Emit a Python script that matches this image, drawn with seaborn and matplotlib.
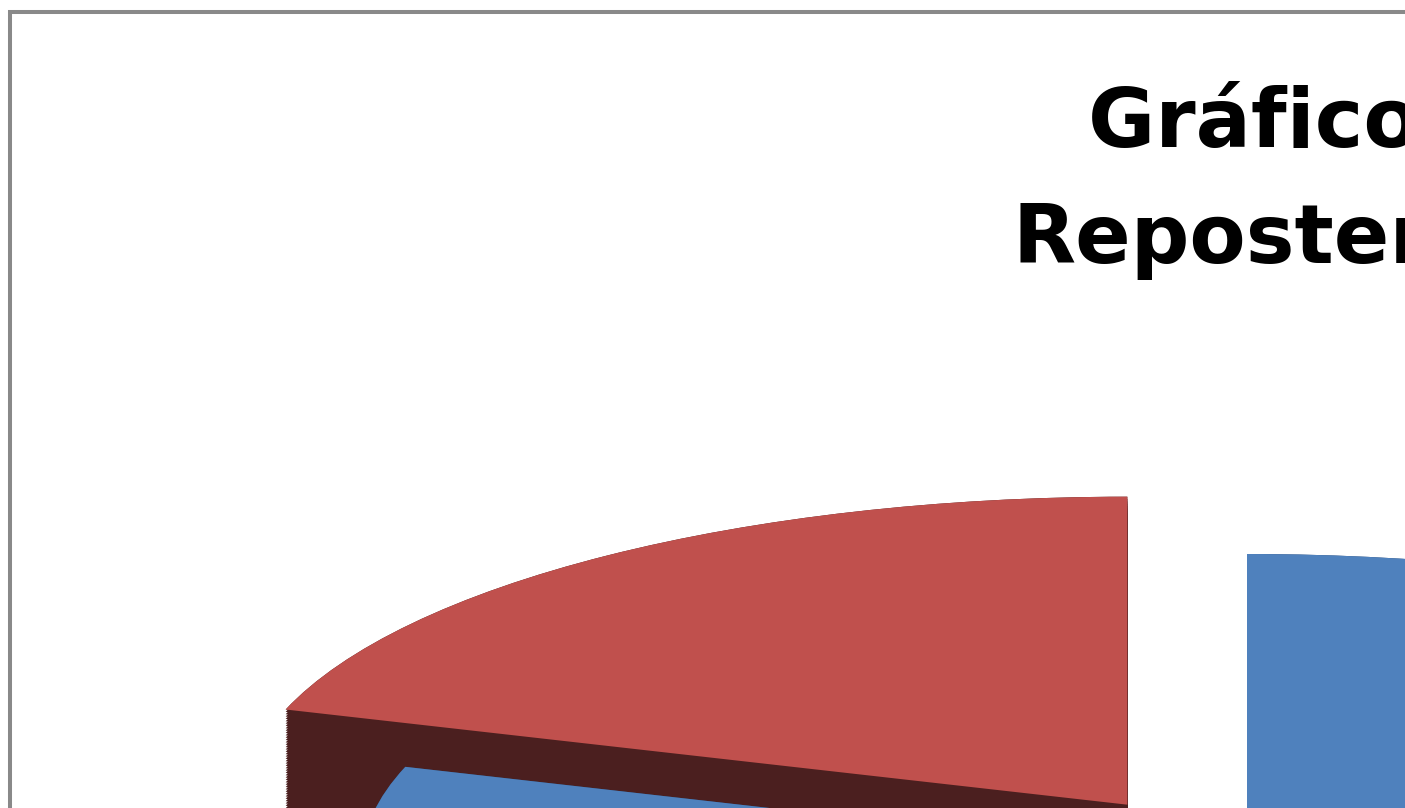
import matplotlib
matplotlib.use("Agg")
import matplotlib.pyplot as plt
import seaborn as sns
import numpy as np
from matplotlib.patches import Rectangle

# ---- data ----
categories = ["Repostería fina", "Otros productos"]
values = [20, 80]
top_colors = ["#C0504D", "#4F81BD"]
side_colors = ["#4B1F1F", "#2B4870"]
explode = [0.23, 0.0]
title_line1 = "Gráfico de Ventas"
title_line2 = "Repostería"

sns.set_theme(style="white")
plt.rcParams['font.family'] = ['DejaVu Sans']

W, H = 1405, 808
fig = plt.figure(figsize=(W / 100, H / 100), dpi=100)
ax = fig.add_axes([0, 0, 1, 1])

rx, ry = 885.0, 308.0          # pixels per data unit
cx_px, cy_px = 1247.0, 862.0   # pie centre in pixels (from top-left)
depth = 0.45

# side (extruded) layers, then top faces
n_layers = 60
for k, off in enumerate(np.linspace(depth, 0.0, n_layers)):
    wedges, _ = ax.pie(values, explode=explode, startangle=90, counterclock=True,
                       colors=side_colors, center=(0, -off), radius=1.0,
                       wedgeprops=dict(linewidth=0), frame=True)
    wedges[0].set_zorder(1)
    wedges[1].set_zorder(3)

wedges, _ = ax.pie(values, explode=explode, startangle=90, counterclock=True,
                   colors=top_colors, center=(0, 0), radius=1.0,
                   wedgeprops=dict(linewidth=0), frame=True)
wedges[0].set_zorder(2)
wedges[1].set_zorder(4)

ax.set_aspect('auto')
xmin = -cx_px / rx
ax.set_xlim(xmin, xmin + W / rx)
ymax = cy_px / ry
ax.set_ylim(ymax - H / ry, ymax)
ax.axis('off')

# chart frame (cropped)
fig.add_artist(Rectangle((10, -60), 3000, (H - 12) + 60, transform=None,
                         fill=False, edgecolor="#898989", linewidth=2.9))

# title (cropped at right edge, as in the reference)
fig.text(1088 / W, 1 - 147 / H, title_line1, ha='left', va='baseline',
         fontsize=59, fontweight='bold', color='black')
fig.text(1012 / W, 1 - 263 / H, title_line2, ha='left', va='baseline',
         fontsize=59, fontweight='bold', color='black')

fig.savefig("out.png", dpi=100)
